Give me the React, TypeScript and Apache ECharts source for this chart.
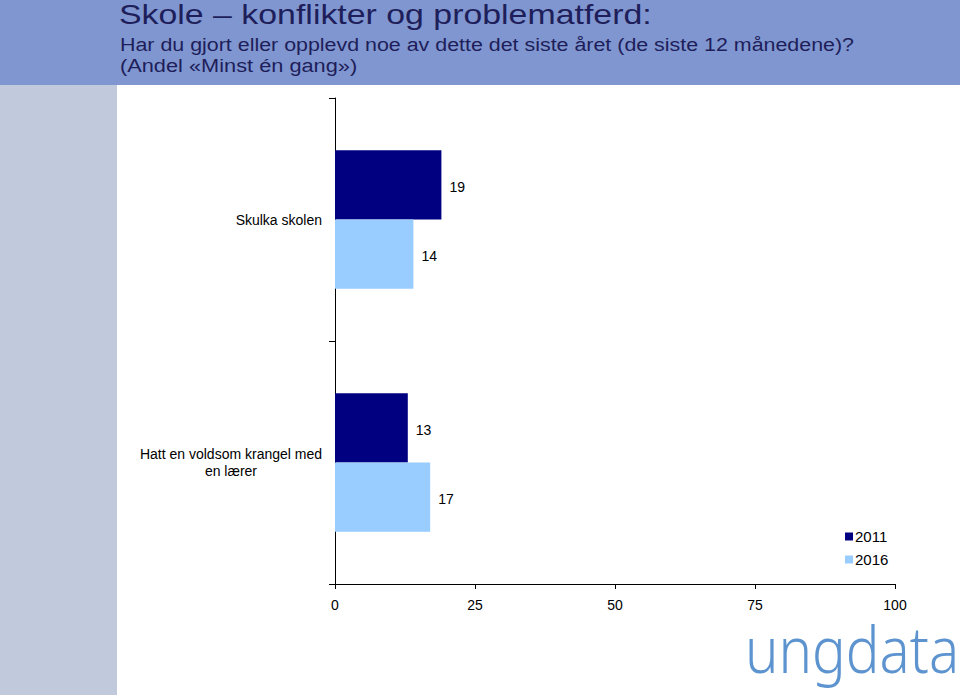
import React, { useEffect, useRef } from "react";
import * as echarts from "echarts";

const categories = ["Skulka skolen", "Hatt en voldsom krangel med\nen lærer"];
const values2011 = [19, 13];
const values2016 = [14, 17];
const seriesNames = ["2011", "2016"];
const xTicks = [0, 25, 50, 75, 100];

const titleText = "Skole – konflikter og problematferd:";
const subtitleLine1 = "Har du gjort eller opplevd noe av dette det siste året (de siste 12 månedene)?";
const subtitleLine2 = "(Andel «Minst én gang»)";

export default function App() {
  const ref = useRef<HTMLDivElement>(null);
  useEffect(() => {
    if (!ref.current) return;
    const chart = echarts.init(ref.current, null, { renderer: "svg" });
    const font = "'Liberation Sans', Arial, sans-serif";
    chart.setOption({
      animation: false,
      backgroundColor: "#ffffff",
      textStyle: { fontFamily: font },
      graphic: [
        { type: "rect", x: 0, y: 0, shape: { x: 0, y: 0, width: 960, height: 85 }, style: { fill: "#8096d0" }, z: -10 },
        { type: "rect", x: 0, y: 85, shape: { x: 0, y: 0, width: 117, height: 610 }, style: { fill: "#c0cadc" }, z: -10 },
        { type: "text", x: 119, y: 1, scaleX: 1.21, style: { text: titleText, fill: "#1e1e5a", font: `28px ${font}`, align: "left", verticalAlign: "top" } },
        { type: "text", x: 120, y: 36, scaleX: 1.19, style: { text: subtitleLine1, fill: "#1e1e5a", font: `18px ${font}`, align: "left", verticalAlign: "top" } },
        { type: "text", x: 120, y: 57, scaleX: 1.21, style: { text: subtitleLine2, fill: "#1e1e5a", font: `18px ${font}`, align: "left", verticalAlign: "top" } },
        { type: "text", x: 745, y: 617, scaleX: 0.88, style: { text: "ungdata", fill: "#5d94cf", font: `300 64px 'Noto Sans', Lato, sans-serif`, align: "left", verticalAlign: "top" } },
      ],
      legend: {
        orient: "vertical",
        left: 840,
        top: 524,
        itemWidth: 8,
        itemHeight: 8,
        itemGap: 8,
        icon: "rect",
        data: seriesNames,
        textStyle: { fontSize: 15, color: "#000", fontFamily: font, padding: [0, 0, 0, -3] },
      },
      grid: { left: 335, right: 65, top: 98, bottom: 111, containLabel: false },
      xAxis: {
        type: "value",
        min: 0,
        max: 100,
        interval: 25,
        splitLine: { show: false },
        axisLine: { show: true, lineStyle: { color: "#000", width: 1 } },
        axisTick: { show: true, length: 5, lineStyle: { color: "#000" } },
        axisLabel: { fontSize: 14, color: "#000", margin: 14, fontFamily: font },
      },
      yAxis: {
        type: "category",
        data: categories,
        inverse: true,
        axisLine: { show: true, lineStyle: { color: "#000", width: 1 } },
        axisTick: { show: true, length: 6, lineStyle: { color: "#000" } },
        axisLabel: {
          fontSize: 14,
          color: "#000",
          margin: 13,
          fontFamily: font,
          lineHeight: 17,
          formatter: (v: string) => v.split("\n").map((l) => `{c|${l}}`).join("\n"),
          rich: { c: { align: "center", fontSize: 14, color: "#000", fontFamily: font, lineHeight: 17 } },
        },
      },
      series: [
        {
          name: seriesNames[0],
          type: "bar",
          data: values2011,
          barGap: "0%",
          barCategoryGap: "43%",
          itemStyle: { color: "#000080" },
          label: { show: true, position: "right", distance: 8, offset: [0, 2], fontSize: 14, color: "#000", fontFamily: font },
        },
        {
          name: seriesNames[1],
          type: "bar",
          data: values2016,
          barGap: "0%",
          barCategoryGap: "43%",
          itemStyle: { color: "#99ccff" },
          label: { show: true, position: "right", distance: 8, offset: [0, 2], fontSize: 14, color: "#000", fontFamily: font },
        },
      ],
    });
    return () => chart.dispose();
  }, []);
  return <div ref={ref} style={{ position: "fixed", left: 0, top: 0, width: 960, height: 695 }} />;
}
